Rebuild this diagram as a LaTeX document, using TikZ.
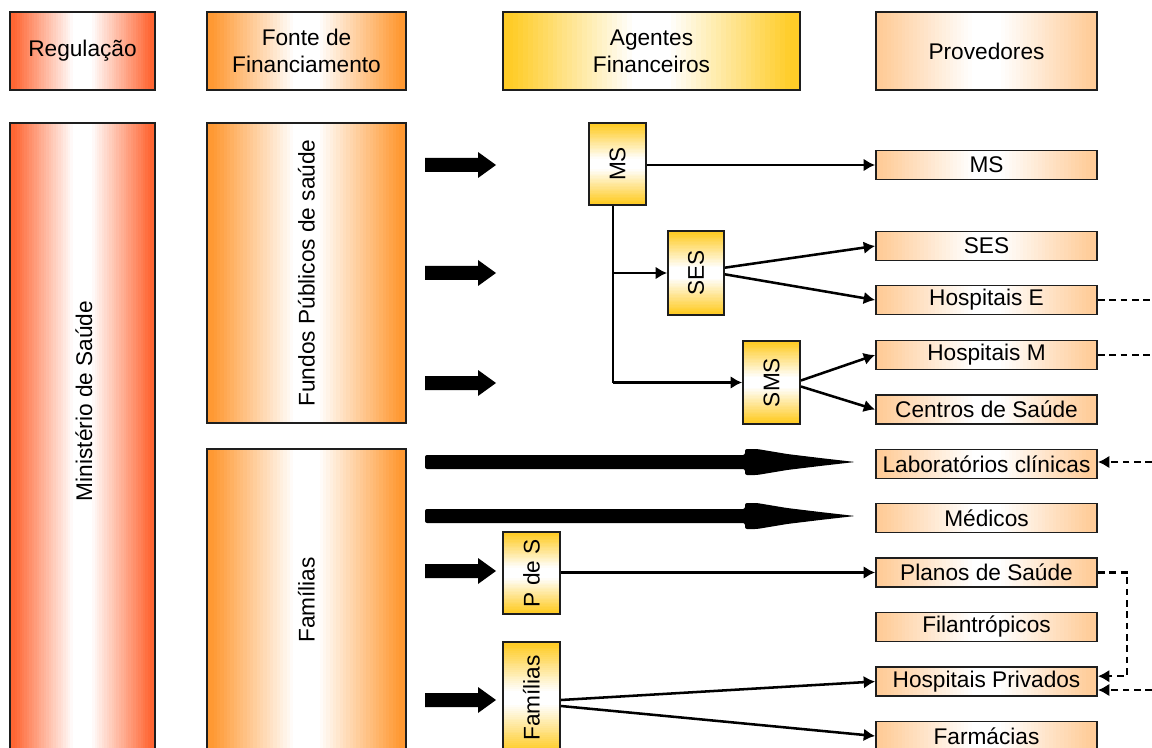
\documentclass[tikz,border=0pt]{standalone}
\usepackage{fontspec}
\setmainfont{Liberation Sans}
\usetikzlibrary{arrows.meta,calc}
\definecolor{creg}{RGB}{255,102,51}
\definecolor{cfon}{RGB}{255,153,51}
\definecolor{cage}{RGB}{255,204,40}
\definecolor{cpro}{RGB}{255,204,153}
\definecolor{edge}{RGB}{30,30,30}
\newcommand\dfont{\fontsize{17}{20.25}\selectfont}
\tikzset{
  sz/.style 2 args={minimum width=#1*0.75pt, minimum height=#2*0.75pt},
  boxbase/.style={draw=edge, line width=1.4pt, inner sep=0pt, align=center, font=\dfont},
  hshade/.style={path picture={
    \foreach \i in {0,...,59}{
      \pgfmathsetmacro\ta{\i/60}\pgfmathsetmacro\tb{min(1,(\i+1)/60+0.005)}
      \pgfmathsetmacro\dd{abs((\i+0.5)/60-0.5)*2}
      \pgfmathsetmacro\pp{100*min(1,max(0,(\dd-0.12)/0.82))}
      \fill[#1!\pp!white] ($(path picture bounding box.south west)!\ta!(path picture bounding box.south east)$) rectangle ($(path picture bounding box.north west)!\tb!(path picture bounding box.north east)$);
    }}},
  vshade/.style={path picture={
    \foreach \i in {0,...,59}{
      \pgfmathsetmacro\ta{\i/60}\pgfmathsetmacro\tb{min(1,(\i+1)/60+0.005)}
      \pgfmathsetmacro\dd{abs((\i+0.5)/60-0.5)*2}
      \pgfmathsetmacro\pp{100*min(1,max(0,(\dd-0.12)/0.82))}
      \fill[#1!\pp!white] ($(path picture bounding box.south west)!\ta!(path picture bounding box.north west)$) rectangle ($(path picture bounding box.south east)!\tb!(path picture bounding box.north east)$);
    }}},
  regbox/.style={boxbase, hshade=creg},
  fonbox/.style={boxbase, hshade=cfon},
  agehdr/.style={boxbase, hshade=cage},
  agebox/.style={boxbase, vshade=cage},
  probox/.style={boxbase, hshade=cpro},
  provnode/.style={probox, sz={221}{29}},
  conn/.style={line width=1.9pt, -{Latex[length=8.5pt,width=9.5pt]}},
  plain/.style={line width=1.9pt},
  dashln/.style={line width=1.9pt, dash pattern=on 5pt off 3.5pt},
  dasharr/.style={dashln, -{Latex[length=8.5pt,width=9.5pt]}},
  blockarrow/.pic={\fill[black] (0,-7) -- (53,-7) -- (53,-13) -- (71,0) -- (53,13) -- (53,7) -- (0,7) -- cycle;},
  longarrow/.pic={\fill[black, rounded corners=1.5pt] (0,-7) -- (320,-7) -- (320,-13) -- (332,-13) -- (362,-8) -- (395,-4) -- (430,0) -- (395,4) -- (362,8) -- (332,13) -- (320,13) -- (320,7) -- (0,7) -- cycle;}
}
\begin{document}
\begin{tikzpicture}[x=0.75pt,y=-0.75pt]
\clip (0,0) rectangle (1152,748);
\fill[white] (0,0) rectangle (1152,748);

% headers
\node[regbox, sz={145}{78}] (reg) at (82.5,51) {Regulação};
\node[fonbox, sz={199}{78}] (fon) at (306.5,51) {Fonte de\\Financiamento};
\node[agehdr, sz={297}{78}] (age) at (651.5,51) {Agentes\\Financeiros};
\node[probox, sz={221}{78}] (pro) at (986.5,51) {Provedores};

% sources
\node[regbox, sz={145}{640}] (min) at (82.5,443) {};
\node[font=\dfont, inner sep=0pt] (mintxt) at (84,401) {\rotatebox{90}{Ministério de Saúde}};
\node[fonbox, sz={199}{300}] (fun) at (306.5,273) {\rotatebox{90}{Fundos Públicos de saúde}};
\node[fonbox, sz={199}{302}] (fam) at (306.5,600) {\rotatebox{90}{Famílias}};

% agents
\node[agebox, sz={57}{82}] (ams) at (617.5,164) {\rotatebox{90}{MS}};
\node[agebox, sz={56}{84}] (ases) at (696,273) {\rotatebox{90}{SES}};
\node[agebox, sz={57}{83}] (asms) at (771.5,382.5) {\rotatebox{90}{SMS}};
\node[agebox, sz={57}{82}] (apds) at (531.5,573) {\rotatebox{90}{P de S}};
\node[agebox, sz={57}{112}] (afam) at (531.5,698) {\rotatebox{90}{Famílias}};

% providers
\node[provnode] (pms) at (986.5,165) {MS};
\node[provnode] (pses) at (986.5,246) {SES};
\node[provnode] (phe) at (986.5,300) {Hospitais E};
\node[provnode] (phm) at (986.5,355) {Hospitais M};
\node[provnode] (pcs) at (986.5,409.5) {Centros de Saúde};
\node[provnode] (plab) at (986.5,464) {Laboratórios clínicas};
\node[provnode] (pmed) at (986.5,518) {Médicos};
\node[provnode] (ppla) at (986.5,572.5) {Planos de Saúde};
\node[provnode] (pfil) at (986.5,627) {Filantrópicos};
\node[provnode] (php) at (986.5,681.5) {Hospitais Privados};
\node[provnode] (pfar) at (986.5,736) {Farmácias};

% block arrows
\pic at (425,165) {blockarrow};
\pic at (425,273) {blockarrow};
\pic at (425,383) {blockarrow};
\pic at (425,571) {blockarrow};
\pic at (425,700) {blockarrow};
\pic at (425,462) {longarrow};
\pic at (425,516) {longarrow};

% solid connectors
\draw[conn] (ams.east |- pms.west) -- (pms.west);
\coordinate (trunk) at ($(ams.south)+(-3.4pt,0)$);
\draw[plain] (trunk) -- (trunk |- asms.west);
\draw[conn] (trunk |- asms.west) -- (asms.west);
\draw[conn] (trunk |- ases.west) -- (ases.west);
\draw[conn] ([yshift=4pt]ases.east) -- (pses.west);
\draw[conn] ([yshift=-1pt]ases.east) -- (phe.west);
\draw[conn] ([yshift=1.5pt]asms.east) -- (phm.west);
\draw[conn] ([yshift=-3pt]asms.east) -- (pcs.west);
\draw[conn] (apds.east |- ppla.west) -- (ppla.west);
\draw[conn] ([yshift=-1.5pt]afam.east) -- (php.west);
\draw[conn] ([yshift=-6pt]afam.east) -- (pfar.west);

% dashed connectors
\coordinate (rhe) at (1152,300);
\coordinate (rhm) at (1152,355);
\coordinate (rlab) at (1152,462);
\coordinate (rhp) at (1152,690);
\coordinate (loopx) at (1127,572.5);
\draw[dashln] (phe.east) -- (rhe);
\draw[dashln] (phm.east) -- (rhm);
\draw[dasharr] (rlab) -- (rlab -| plab.east);
\draw[dasharr] (ppla.east) -- (loopx) |- ([yshift=4pt]php.east);
\draw[dasharr] (rhp) -- (rhp -| php.east);
\end{tikzpicture}
\end{document}
